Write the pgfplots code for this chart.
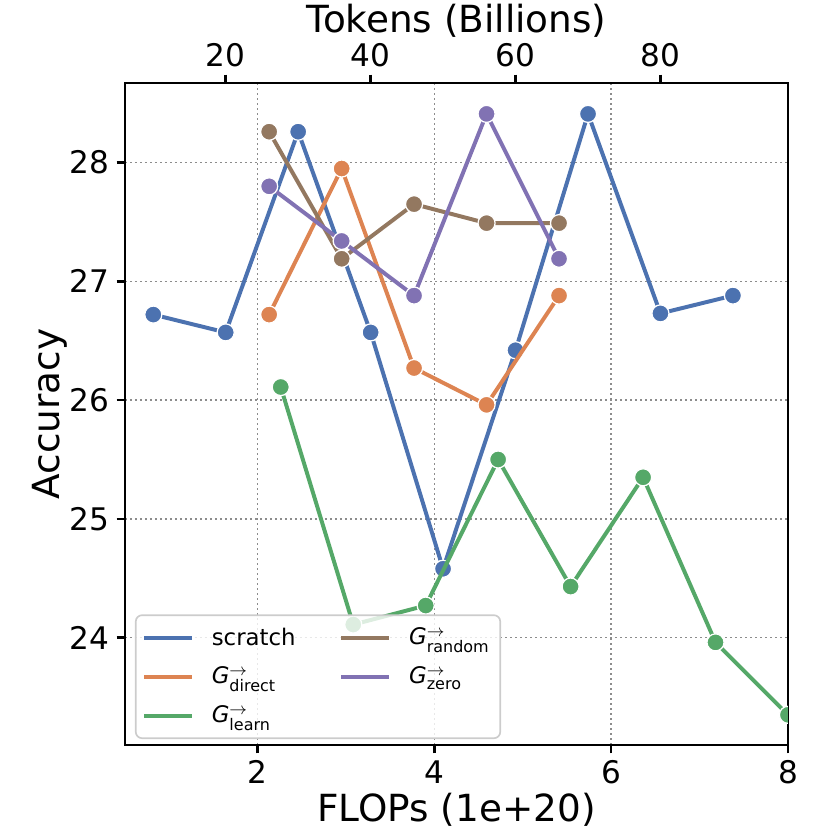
\documentclass[border=0pt]{standalone}
\usepackage{fontspec}
\setmainfont{DejaVu Sans}
\usepackage{amsmath}
\usepackage{pgfplots}
\pgfplotsset{compat=1.18}
\definecolor{cA}{HTML}{4C72B0}
\definecolor{cB}{HTML}{DD8452}
\definecolor{cC}{HTML}{55A868}
\definecolor{cD}{HTML}{937860}
\definecolor{cE}{HTML}{8172B3}
\pgfplotsset{
  ser/.style={#1, line width=1.9bp, mark=*, mark size=4.1bp,
    mark options={draw=white, line width=0.6bp, fill=#1}},
}
\begin{document}
\begin{tikzpicture}
\useasboundingbox (-60bp,-40.8bp) rectangle (338.4bp,357.6bp);
\begin{axis}[
  at={(0,0)}, anchor=south west,
  width=318.24bp, height=317.76bp, scale only axis,
  xmin=0.5, xmax=8, ymin=23.096, ymax=28.67,
  xtick={2,4,6,8}, ytick={24,25,26,27,28},
  xtick pos=left, ytick pos=left,
  tick align=outside,
  major tick length=4bp,
  every tick/.style={black, line width=1.2bp},
  axis line style={line width=1.25bp},
  grid=major,
  major grid style={black!45, line width=0.8bp, dash pattern=on 0.8bp off 1.6bp},
  tick label style={font=\fontsize{15}{18}\selectfont},
  label style={font=\fontsize{18}{21.6}\selectfont},
  xlabel style={yshift=2.5bp},
  ylabel style={yshift=-5.8bp},
  /pgf/number format/assume math mode=true,
  xlabel={FLOPs (1e+20)}, ylabel={Accuracy},
  clip marker paths=true,
  legend style={at={(0.015,0.009)}, anchor=south west, fill=white, fill opacity=0.8,
    draw opacity=1, text opacity=1, draw=black!20, line width=0.8bp, rounded corners=3bp,
    font=\fontsize{11}{13}\selectfont, row sep=5bp, inner ysep=4bp, inner xsep=3bp,
    /tikz/every odd column/.append style={column sep=6.5bp},
    /tikz/every even column/.append style={column sep=19bp}},
  legend columns=2,
  legend cell align=left,
  legend image code/.code={\draw[#1] (0bp,0bp) -- (23bp,0bp);},
]
\addplot[ser=cA, forget plot] coordinates {
(0.820,26.72) (1.639,26.57) (2.459,28.26) (3.279,26.57) (4.098,24.58)
(4.918,26.42) (5.738,28.41) (6.557,26.73) (7.377,26.88)};
\addplot[ser=cB, forget plot] coordinates {
(2.131,26.72) (2.951,27.95) (3.770,26.27) (4.590,25.96) (5.410,26.88)};
\addplot[ser=cC, forget plot] coordinates {
(2.262,26.11) (3.082,24.11) (3.902,24.27) (4.721,25.50) (5.541,24.43)
(6.361,25.35) (7.180,23.96) (8.000,23.35)};
\addplot[ser=cD, forget plot] coordinates {
(2.131,28.26) (2.951,27.19) (3.770,27.65) (4.590,27.49) (5.410,27.49)};
\addplot[ser=cE, forget plot] coordinates {
(2.131,27.80) (2.951,27.34) (3.770,26.88) (4.590,28.41) (5.410,27.19)};
\addlegendimage{cA, line width=2bp}
\addlegendentry{scratch}
\addlegendimage{cD, line width=2bp}
\addlegendentry{\textit{G}$^{\rightarrow}_{\text{random}}$}
\addlegendimage{cB, line width=2bp}
\addlegendentry{\textit{G}$^{\rightarrow}_{\text{direct}}$}
\addlegendimage{cE, line width=2bp}
\addlegendentry{\textit{G}$^{\rightarrow}_{\text{zero}}$}
\addlegendimage{cC, line width=2bp}
\addlegendentry{\textit{G}$^{\rightarrow}_{\text{learn}}$}
\end{axis}
\begin{axis}[
  at={(0,0)}, anchor=south west,
  width=318.24bp, height=317.76bp, scale only axis,
  xmin=6.1, xmax=97.6, ymin=0, ymax=1,
  axis x line*=top, axis y line=none,
  xtick={20,40,60,80},
  tick align=outside,
  major tick length=4bp,
  every tick/.style={black, line width=1.2bp},
  axis line style={line width=1.25bp, -},
  tick label style={font=\fontsize{15}{18}\selectfont},
  label style={font=\fontsize{18}{21.6}\selectfont},
  xlabel style={yshift=-4bp},
  /pgf/number format/assume math mode=true,
  xlabel={Tokens (Billions)},
]
\end{axis}
\end{tikzpicture}
\end{document}
